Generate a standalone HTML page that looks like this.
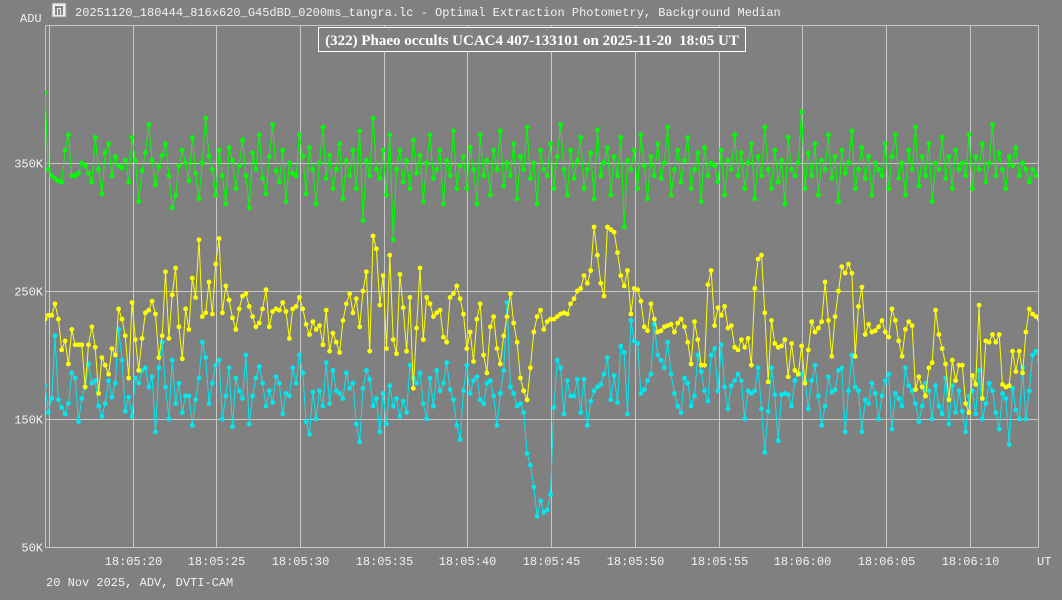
<!DOCTYPE html>
<html><head><meta charset="utf-8"><style>
body{margin:0;background:#808080;width:1062px;height:600px;overflow:hidden}
svg{display:block}
.m{font-family:"Liberation Mono",monospace;font-size:12px;fill:#f2f2f2}
</style></head><body>
<svg id="chart" width="1062" height="600" viewBox="0 0 1062 600" xmlns="http://www.w3.org/2000/svg">
<rect width="1062" height="600" fill="#808080"/>
<g>
<rect x="52" y="3" width="14" height="14" fill="#eee" stroke="#999"/>
<path d="M55 7h8M56 7v8M59 9v6M62 7v8" stroke="#666" stroke-width="1.5"/>
</g>
<text x="75" y="16" class="m">20251120_180444_816x620_G45dBD_0200ms_tangra.lc - Optimal Extraction Photometry, Background Median</text>
<text x="20" y="22" class="m">ADU</text>
<g id="grid"></g>
<g id="ylabels"></g>
<g id="xlabels"></g>
<text x="1037" y="565" class="m">UT</text>
<text x="46" y="586" class="m">20 Nov 2025, ADV, DVTI-CAM</text>
<clipPath id="pc"><rect x="45" y="25" width="993" height="523"/></clipPath>
<g id="series" clip-path="url(#pc)"></g>
<g>
<rect x="318.5" y="27.5" width="427" height="24" fill="#808080" stroke="#fff"/>
<text x="532" y="45" text-anchor="middle" font-family="Liberation Serif, serif" font-weight="bold" font-size="15" fill="#fff">(322) Phaeo occults UCAC4 407-133101 on 2025-11-20&#160;&#160;18:05 UT</text>
</g>
</svg>
<script>
const yTicks=[50,150,250,350];
const yTickLabels=["50K","150K","250K","350K"];
const xTickSecs=[20,25,30,35,40,45,50,55,60,65,70];
const xTickLabels=["18:05:20","18:05:25","18:05:30","18:05:35","18:05:40","18:05:45","18:05:50","18:05:55","18:06:00","18:06:05","18:06:10"];
const t0=14.76, dt=0.2;
const green=[405,345,340,338,336,335,360,372,340,340,342,350,348,342,335,370,345,326,358,365,340,355,348,346,352,
335,370,352,320,344,358,380,352,333,347,356,365,340,315,325,348,360,350,336,370,342,322,350,385,355,
345,325,360,340,318,362,352,330,348,368,340,315,358,345,372,338,326,355,380,344,335,360,320,350,342,
340,372,355,326,362,345,318,350,378,338,356,330,345,365,322,352,340,360,330,375,305,352,340,385,345,
338,360,325,372,290,345,360,335,352,330,368,342,356,320,350,372,338,345,360,318,352,340,375,330,348,
355,330,362,345,318,372,340,352,325,360,345,375,332,350,340,365,322,355,345,378,338,350,318,360,345,
340,365,330,355,380,345,325,360,338,352,370,330,345,358,322,376,340,350,362,325,355,340,370,300,352,
345,360,330,372,348,322,355,340,365,338,350,378,325,345,360,335,352,370,330,345,358,320,362,340,350,
348,335,360,325,352,345,372,340,358,330,350,365,322,355,340,378,345,330,360,335,352,318,370,345,340,
350,390,330,358,340,365,325,352,345,372,338,355,320,360,342,350,375,330,345,362,338,355,325,350,345,
340,365,330,355,372,338,350,325,360,345,378,332,355,340,365,320,350,345,370,338,355,330,360,345,350,
340,372,330,355,345,365,335,350,380,340,358,345,330,355,348,362,340,350,345,335,345,340,350,345,340];
const yellow=[228,231,231,240,228,204,211,193,220,208,208,208,175,208,222,206,170,198,192,185,205,200,236,228,215,
182,241,212,188,213,233,235,242,232,198,215,265,213,247,268,222,197,236,220,260,245,290,230,233,257,
232,271,291,233,254,243,229,220,236,246,248,238,230,222,225,236,251,222,234,236,235,241,234,213,236,
238,245,236,224,216,226,220,223,208,235,203,217,210,202,227,240,248,233,244,222,250,265,203,293,283,
239,262,205,278,212,201,263,237,203,245,174,221,268,212,245,240,230,233,235,214,210,245,248,254,244,
232,205,218,195,228,240,200,186,222,230,205,193,215,230,248,225,210,182,172,165,190,218,230,235,220,
226,228,228,230,232,233,232,240,244,250,252,262,256,266,300,278,256,246,300,298,296,280,262,254,266,
232,252,251,242,222,219,240,228,218,219,222,223,224,218,225,228,222,210,193,226,212,192,192,255,266,
223,237,231,238,221,223,206,204,212,206,213,192,252,275,278,233,179,227,209,206,207,212,183,209,188,
185,207,178,204,226,218,221,226,257,227,199,230,250,269,264,271,264,199,238,253,216,224,218,219,222,
227,218,214,236,227,211,199,220,226,223,173,183,175,168,190,194,235,216,205,193,165,196,180,192,192,
162,155,184,177,239,166,211,210,216,210,216,177,175,176,203,187,203,186,218,236,232,230,228,226,224];
const cyan=[176,155,166,215,165,159,154,162,186,182,148,166,175,193,178,180,160,152,162,180,167,178,220,196,156,
167,152,182,178,188,190,175,183,140,190,210,175,150,196,162,178,155,168,168,145,165,182,210,198,162,
178,192,196,150,168,190,144,182,172,166,200,146,168,182,191,178,160,172,163,183,178,154,170,168,190,
178,200,186,148,138,171,150,172,160,194,162,188,172,170,166,186,174,178,146,132,174,188,181,160,166,
140,170,146,176,160,166,152,164,155,192,182,178,186,162,150,182,160,188,172,178,194,173,165,145,134,
172,192,170,180,183,165,162,178,180,168,145,170,188,241,175,170,160,162,155,123,114,97,74,86,77,
79,91,159,196,190,154,180,168,168,181,155,181,145,164,172,175,177,185,198,165,184,163,207,202,154,
227,211,209,170,173,180,185,224,200,196,190,210,185,170,160,155,182,178,160,168,200,187,172,164,200,
205,172,208,175,158,176,180,185,180,150,172,170,172,190,158,124,156,190,169,133,169,170,169,160,180,
186,185,180,158,180,192,168,145,160,183,171,173,188,190,140,172,200,175,172,140,165,162,178,170,150,
168,180,185,142,170,166,160,190,176,172,162,148,160,178,172,150,176,160,154,182,146,176,155,172,156,
140,168,172,154,188,150,162,178,172,155,142,170,166,130,174,157,150,190,150,172,200,203,196,200,205];

const NS="http://www.w3.org/2000/svg";
const X=s=>49+(s-15)*16.74;
const Y=v=>547-(v-50)*1.28;
function mk(tag,attrs,parent){const e=document.createElementNS(NS,tag);for(const k in attrs)e.setAttribute(k,attrs[k]);parent.appendChild(e);return e;}
const grid=document.getElementById('grid');
const frame=mk('path',{d:'M45.5 25.5V547.5H1038.5V25.5H45.5',fill:'none',stroke:'#c8c8c8'},grid);


const g15=mk('line',{x1:X(15)+0.5,x2:X(15)+0.5,y1:25,y2:547,stroke:'#c8c8c8'},grid);


yTicks.forEach((v,i)=>{
  const y=Math.round(Y(v))+0.5;
  const l=mk('line',{x1:45,x2:1038,y1:y,y2:y,stroke:'#c8c8c8'},grid);
  
  
  const t=mk('text',{x:43,y:y+4,'text-anchor':'end',class:'m'},document.getElementById('ylabels'));
  t.textContent=yTickLabels[i];
  
  
});
xTickSecs.forEach((s,i)=>{
  const x=Math.round(X(s))+0.5;
  const l=mk('line',{x1:x,x2:x,y1:25,y2:547,stroke:'#c8c8c8'},grid);
  
  
  const t=mk('text',{x:x,y:565,'text-anchor':'middle',class:'m'},document.getElementById('xlabels'));
  t.textContent=xTickLabels[i];
  
  
});
const sg=document.getElementById('series');
function draw(arr,color,name){
  const g=mk('g',{},sg);
  
  
  const pts=arr.map((v,i)=>X(t0+i*dt).toFixed(1)+','+Y(v).toFixed(1)).join(' ');
  const pl=mk('polyline',{points:pts,fill:'none',stroke:color,'stroke-width':1},g);
  
  
  arr.forEach((v,i)=>{
    const c=mk('circle',{cx:X(t0+i*dt).toFixed(1),cy:Y(v).toFixed(1),r:2.4,fill:color},g);
    
    
  });
}
draw(green,'#00ff00','comparison-star-series');
draw(cyan,'#00e8f0','target-star-series');
draw(yellow,'#ffff00','reference-star-series');
</script>
</body></html>
